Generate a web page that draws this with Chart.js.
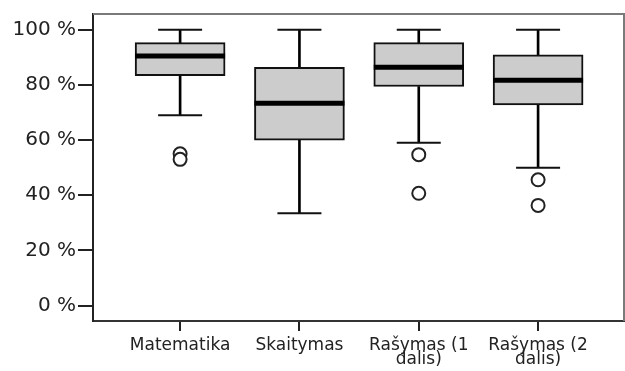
<!DOCTYPE html>
<html>
<head>
<meta charset="utf-8">
<script src="https://cdn.jsdelivr.net/npm/chart.js@4"></script>
<style>
  html, body { margin: 0; padding: 0; background: #fff; }
  #wrap { width: 625px; height: 371px; }
</style>
</head>
<body>
<div id="wrap"><canvas id="chartBox"></canvas></div>
<script>
// categorii si valori
var categorii = [["Matematika"], ["Skaitymas"], ["Rašymas (1", "dalis)"], ["Rašymas (2", "dalis)"]];
var minime = [69, 33.5, 59, 50];
var q1 = [83.3, 60, 79.4, 72.7];
var mediane = [90.5, 73.3, 86.4, 81.7];
var q3 = [95.3, 86.4, 95.3, 90.9];
var maxime = [100, 100, 100, 100];
var extreme = [[55, 53], [], [54.7, 40.7], [45.6, 36.3]];
var valoriY = [0, 20, 40, 60, 80, 100];

var cutii = [], mustatiSus = [], mustatiJos = [], capete = [], linieMediana = [], puncteExtreme = [];
for (var i = 0; i < categorii.length; i++) {
    cutii.push({ x: i, y: [q1[i], q3[i]] });
    mustatiSus.push({ x: i, y: [q3[i], maxime[i]] });
    mustatiJos.push({ x: i, y: [minime[i], q1[i]] });
    capete.push({ x: i, y: maxime[i] });
    capete.push({ x: i, y: minime[i] });
    linieMediana.push({ x: i, y: mediane[i] });
    for (var j = 0; j < extreme[i].length; j++)
        puncteExtreme.push({ x: i, y: extreme[i][j] });
}

var chenar = {
    id: 'chenar',
    afterDraw: function (chart) {
        var a = chart.chartArea, c = chart.ctx;
        c.save();
        c.strokeStyle = '#7a7a7a';
        c.lineWidth = 2;
        c.beginPath();
        c.moveTo(a.left, a.top);
        c.lineTo(a.right, a.top);
        c.lineTo(a.right, a.bottom);
        c.stroke();
        c.restore();
    }
};

var ctx = document.getElementById('chartBox').getContext('2d');
var chartBox = new Chart(ctx, {
    type: 'bar',
    data: {
        datasets: [
            { type: 'bar', data: mustatiSus, grouped: false, barThickness: 2, backgroundColor: '#000', borderWidth: 0, order: 5 },
            { type: 'bar', data: mustatiJos, grouped: false, barThickness: 2, backgroundColor: '#000', borderWidth: 0, order: 5 },
            { type: 'bar', data: cutii, grouped: false, barThickness: 90, backgroundColor: '#cccccc', borderColor: '#111', borderWidth: 2, borderSkipped: false, order: 4 },
            { type: 'scatter', data: capete, pointStyle: 'line', radius: 22, borderColor: '#111', borderWidth: 2, order: 3 },
            { type: 'scatter', data: linieMediana, pointStyle: 'line', radius: 45, borderColor: '#000', borderWidth: 5, order: 1 },
            { type: 'scatter', data: puncteExtreme, pointStyle: 'circle', radius: 6.5, backgroundColor: '#fff', borderColor: '#222', borderWidth: 2, order: 2 }
        ]
    },
    options: {
        responsive: true,
        maintainAspectRatio: false,
        animation: false,
        layout: { autoPadding: false, padding: { top: 13, right: 1, left: 0, bottom: 0 } },
        plugins: { legend: { display: false }, tooltip: { enabled: false } },
        scales: {
            x: {
                type: 'linear',
                offset: false,
                min: -0.73,
                max: 3.72,
                afterBuildTicks: function (s) { s.ticks = [0, 1, 2, 3].map(function (v) { return { value: v }; }); },
                afterFit: function (s) { s.height = 50; },
                grid: { offset: false, drawOnChartArea: false, drawTicks: true, tickLength: 10, color: '#222', lineWidth: 2 },
                border: { display: true, color: '#333', width: 2 },
                ticks: {
                    autoSkip: false,
                    maxRotation: 0,
                    padding: 8,
                    color: '#222',
                    font: { family: 'DejaVu Sans', size: 17, lineHeight: 0.8 },
                    callback: function (v) { return categorii[v]; }
                }
            },
            y: {
                min: -5.6,
                max: 105.7,
                afterBuildTicks: function (s) { s.ticks = valoriY.map(function (v) { return { value: v }; }); },
                afterFit: function (s) { s.width = 93; },
                grid: { drawOnChartArea: false, drawTicks: true, tickLength: 15, color: '#222', lineWidth: 2 },
                border: { display: true, color: '#222', width: 2 },
                ticks: {
                    padding: 2,
                    color: '#222',
                    font: { family: 'DejaVu Sans', size: 20 },
                    callback: function (v) { return v + ' %'; }
                }
            }
        }
    },
    plugins: [chenar]
});
</script>
</body>
</html>
